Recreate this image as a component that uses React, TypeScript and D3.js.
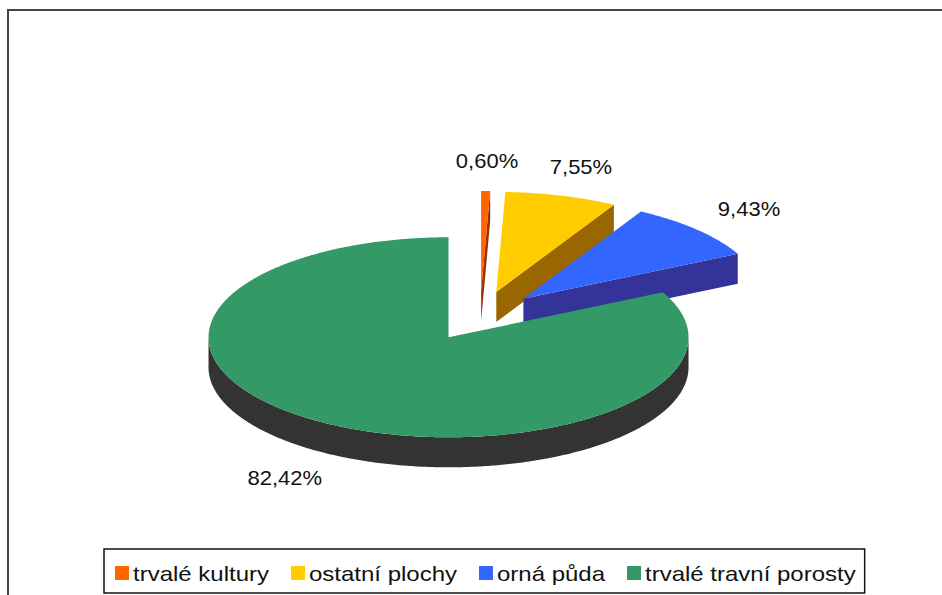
import React, { useEffect, useRef } from 'react'
import * as d3 from 'd3'

// land use shares (%), clockwise from 12 o'clock
const categories = ['trvalé kultury', 'ostatní plochy', 'orná půda', 'trvalé travní porosty']
const shares = [0.60, 7.55, 9.43, 82.42]
const labels = ['0,60%', '7,55%', '9,43%', '82,42%']
const topColors = ['#FF6600', '#FFCC00', '#3366FF', '#339966']
const sideColors = ['#993300', '#996600', '#333399', '#333333']

const W = 942
const H = 595
const cx = 480
const cy = 316
const rx = 240
const ry = 100
const depth = 30
const explode = 0.25
const font = '"Liberation Sans", Arial, sans-serif'

type P = [number, number]

export default function App() {
    const ref = useRef<SVGSVGElement>(null)

    useEffect(() => {
        const svg = d3.select(ref.current)
        svg.selectAll('*').remove()

        svg.append('rect')
            .attr('x', 8).attr('y', 10)
            .attr('width', W + 20).attr('height', H + 20)
            .attr('fill', 'white')
            .attr('stroke', '#444')
            .attr('stroke-width', 2)

        const arcs = d3.pie<number>().sort(null).value(d => d)(shares)
        const line = d3.line()

        const pt = (c: P, a: number, k = 1, dz = 0): P =>
            [c[0] + Math.sin(a) * rx * k, c[1] - Math.cos(a) * ry * k + dz]
        const arcPts = (c: P, a0: number, a1: number, dz = 0): P[] => {
            const n = Math.max(2, Math.ceil(Math.abs(a1 - a0) / 0.01))
            return d3.range(n + 1).map(i => pt(c, a0 + (a1 - a0) * i / n, 1, dz))
        }

        const slices = arcs.map((a, i) => {
            const mid = (a.startAngle + a.endAngle) / 2
            const c: P = [cx + Math.sin(mid) * rx * explode, cy - Math.cos(mid) * ry * explode]
            return { a, i, mid, c }
        })

        // back to front
        const ordered = [...slices].sort((p, q) => Math.cos(q.mid) - Math.cos(p.mid))

        ordered.forEach(({ a, i, c }) => {
            const g = svg.append('g')
            const down: P = [c[0], c[1] + depth]

            // outer curved side, only the front half shows
            const s0 = Math.max(a.startAngle, Math.PI / 2)
            const s1 = Math.min(a.endAngle, 3 * Math.PI / 2)
            if (s1 > s0) {
                g.append('path')
                    .attr('d', line([...arcPts(c, s0, s1), ...arcPts(c, s1, s0, depth)]) + 'Z')
                    .attr('fill', sideColors[i])
            }
            // radial cut faces
            if (Math.sin(a.endAngle) > 1e-6) {
                g.append('path')
                    .attr('d', line([c, pt(c, a.endAngle), pt(c, a.endAngle, 1, depth), down]) + 'Z')
                    .attr('fill', sideColors[i])
            }
            if (Math.sin(a.startAngle) < -1e-6) {
                g.append('path')
                    .attr('d', line([c, pt(c, a.startAngle), pt(c, a.startAngle, 1, depth), down]) + 'Z')
                    .attr('fill', sideColors[i])
            }
            // top face
            g.append('path')
                .attr('d', line([c, ...arcPts(c, a.startAngle, a.endAngle)]) + 'Z')
                .attr('fill', topColors[i])
        })

        // value labels
        slices.forEach(({ i, mid, c }) => {
            const p = pt(c, mid, 1.3, Math.cos(mid) < 0 ? depth : 0)
            svg.append('text')
                .attr('transform', `translate(${p[0]},${p[1]}) scale(1.1,1)`)
                .attr('text-anchor', 'middle')
                .attr('dy', '0.35em')
                .style('font-family', font)
                .style('font-size', '20px')
                .attr('fill', '#111')
                .text(labels[i])
        })

        // legend
        const lg = svg.append('g').attr('transform', 'translate(104,549)')
        const box = lg.append('rect')
            .attr('y', 0).attr('height', 44)
            .attr('fill', 'white')
            .attr('stroke', '#111')
            .attr('stroke-width', 1.5)
        let x = 11
        categories.forEach((name, i) => {
            lg.append('rect')
                .attr('x', x).attr('y', 17)
                .attr('width', 14).attr('height', 14)
                .attr('fill', topColors[i])
            const t = lg.append('text')
                .attr('transform', `translate(${x + 18},32) scale(1.2,1)`)
                .style('font-family', font)
                .style('font-size', '20px')
                .attr('fill', '#111')
                .text(name)
            const w = (t.node() as SVGTextElement).getComputedTextLength() * 1.2
            x += 18 + w + 22
        })
        box.attr('width', x - 22 + 9)
    }, [])

    return (
        <svg ref={ref} width={W} height={H}
            style={{ position: 'absolute', left: 0, top: 0, background: 'white' }} />
    )
}
